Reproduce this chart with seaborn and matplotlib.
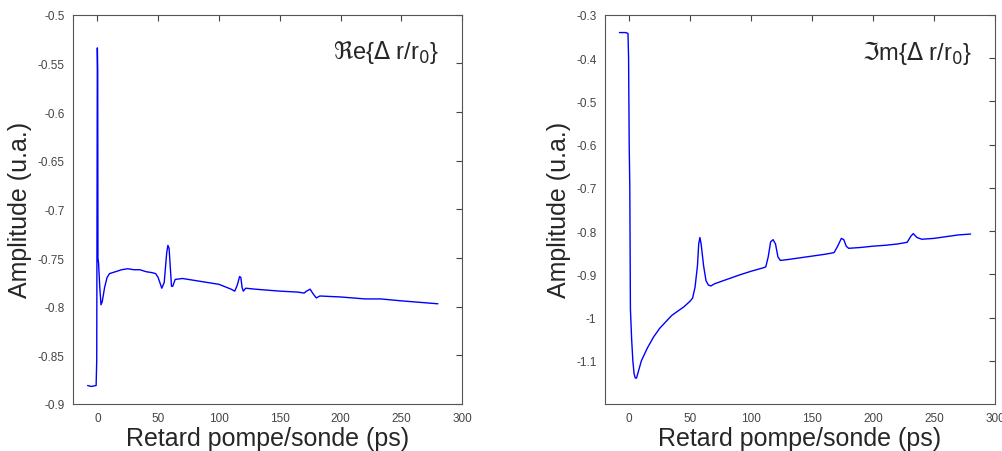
import numpy as np
import pandas as pd
import matplotlib
matplotlib.use('Agg')
import matplotlib.pyplot as plt
import seaborn as sns

# Partie reelle
re_x = [-8, -5, -1, -0.5, 0, 0.3, 0.5, 1, 2, 3, 4, 6, 8, 10, 15, 20, 25, 30, 35, 40,
        45, 48, 50, 53, 55, 57, 58, 59, 60, 61, 62, 64, 70, 80, 90, 100, 110, 113, 115,
        117, 118, 119, 120, 122, 130, 150, 165, 170, 172, 175, 177, 180, 183, 200, 220,
        233, 250, 260, 270, 280]
re_y = [-0.881, -0.882, -0.881, -0.855, -0.534, -0.556, -0.750, -0.755, -0.780, -0.798,
        -0.795, -0.780, -0.770, -0.766, -0.764, -0.762, -0.761, -0.762, -0.762, -0.764,
        -0.765, -0.766, -0.770, -0.781, -0.775, -0.745, -0.737, -0.740, -0.760, -0.779,
        -0.779, -0.772, -0.771, -0.773, -0.775, -0.777, -0.782, -0.784, -0.778, -0.769,
        -0.770, -0.780, -0.784, -0.781, -0.782, -0.784, -0.785, -0.786, -0.784, -0.782,
        -0.786, -0.791, -0.789, -0.790, -0.792, -0.792, -0.794, -0.795, -0.796, -0.797]

# Partie imaginaire
im_x = [-8, -3, -1, -0.5, 0, 0.5, 1, 2, 3, 4, 5, 6, 8, 10, 15, 20, 25, 30, 35, 40, 45,
        50, 52, 54, 56, 57, 58, 59, 61, 63, 65, 67, 70, 80, 90, 100, 110, 112, 114, 116,
        118, 120, 122, 124, 130, 140, 150, 160, 168, 171, 174, 176, 178, 180, 190, 200,
        210, 220, 228, 231, 233, 236, 240, 250, 260, 270, 280]
im_y = [-0.341, -0.341, -0.343, -0.40, -0.60, -0.70, -0.98, -1.05, -1.10, -1.13, -1.14,
        -1.14, -1.12, -1.10, -1.07, -1.045, -1.025, -1.01, -0.995, -0.985, -0.975,
        -0.962, -0.955, -0.93, -0.88, -0.83, -0.815, -0.83, -0.88, -0.915, -0.925,
        -0.927, -0.922, -0.912, -0.902, -0.893, -0.885, -0.883, -0.86, -0.825, -0.82,
        -0.83, -0.86, -0.868, -0.866, -0.862, -0.858, -0.854, -0.85, -0.835, -0.817,
        -0.82, -0.835, -0.84, -0.838, -0.835, -0.833, -0.830, -0.826, -0.812, -0.806,
        -0.815, -0.819, -0.817, -0.813, -0.809, -0.807]

re_ticks = [-0.9, -0.85, -0.8, -0.75, -0.7, -0.65, -0.6, -0.55, -0.5]
im_ticks = [-1.1, -1, -0.9, -0.8, -0.7, -0.6, -0.5, -0.4, -0.3]
x_ticks = [0, 50, 100, 150, 200, 250, 300]

sns.set_style('white')
plt.rcParams['font.family'] = ['Liberation Sans', 'DejaVu Sans']
plt.rcParams['mathtext.fontset'] = 'dejavusans'

fig = plt.figure(figsize=(10.03, 4.52), dpi=100)
ax1 = fig.add_axes([0.0728, 0.104, 0.388, 0.861])
ax2 = fig.add_axes([0.603, 0.104, 0.389, 0.861])

df_re = pd.DataFrame({'x': re_x, 'y': re_y})
df_im = pd.DataFrame({'x': im_x, 'y': im_y})
sns.lineplot(data=df_re, x='x', y='y', ax=ax1, color='#0000ff', linewidth=1, estimator=None, sort=False)
sns.lineplot(data=df_im, x='x', y='y', ax=ax2, color='#0000ff', linewidth=1, estimator=None, sort=False)

ax1.set_ylim(-0.9, -0.5)
ax1.set_yticks(re_ticks)
ax1.set_yticklabels([f'{t:g}' for t in re_ticks])
ax2.set_ylim(-1.2, -0.3)
ax2.set_yticks(im_ticks)
ax2.set_yticklabels([f'{t:g}' for t in im_ticks])

for ax in (ax1, ax2):
    ax.set_xlim(-20, 300)
    ax.set_xticks(x_ticks)
    ax.set_xticklabels([str(t) for t in x_ticks])
    ax.tick_params(direction='in', length=4, width=0.8, labelsize=8.5, colors='#444444',
                   top=True, right=True, pad=6)
    for s in ax.spines.values():
        s.set_color('#555555')
        s.set_linewidth(0.8)
    ax.set_xlabel('Retard pompe/sonde (ps)', fontsize=18, labelpad=1)
    ax.set_ylabel('Amplitude (u.a.)', fontsize=18, labelpad=4)

ax1.text(0.94, 0.905, r'$\Re$e{$\Delta$ r/r$_0$}', transform=ax1.transAxes,
         ha='right', va='center', fontsize=17)
ax2.text(0.94, 0.905, r'$\Im$m{$\Delta$ r/r$_0$}', transform=ax2.transAxes,
         ha='right', va='center', fontsize=17)

fig.savefig('out.png', dpi=100)
